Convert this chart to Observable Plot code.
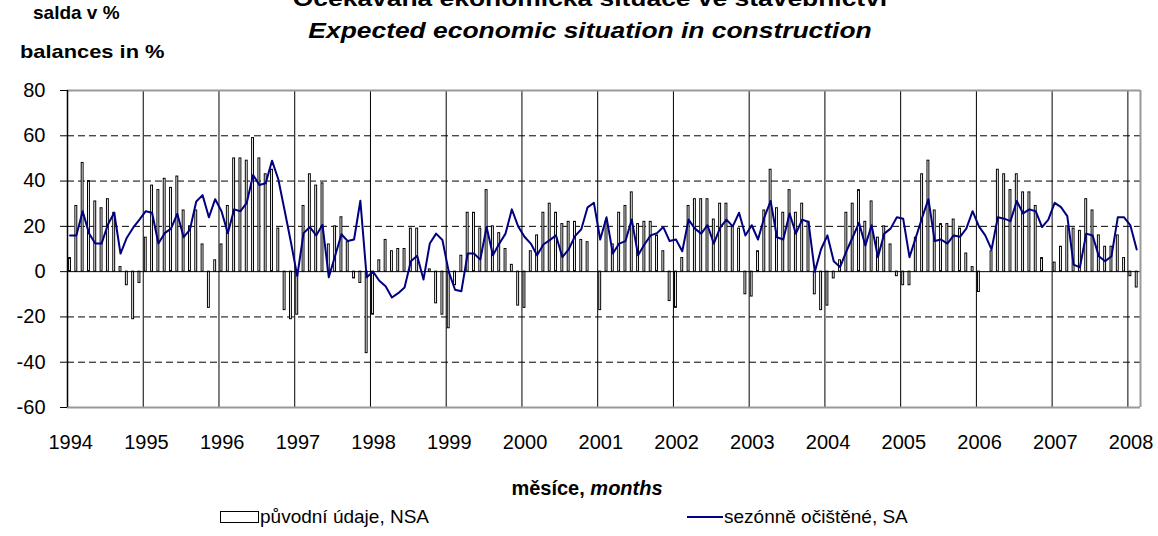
<!DOCTYPE html>
<html><head><meta charset="utf-8">
<script src="https://cdn.jsdelivr.net/npm/d3@7"></script>
<script src="https://cdn.jsdelivr.net/npm/@observablehq/plot@0.6"></script>
<style>
html,body{margin:0;padding:0;background:#fff;}
body{width:1158px;height:536px;overflow:hidden;font-family:"Liberation Sans",Arial,sans-serif;color:#000;}
#header{position:relative;height:66px;overflow:hidden;}
#footer{position:relative;height:76px;}
.t{position:absolute;white-space:nowrap;font-weight:bold;line-height:1.15;}
.n{position:absolute;white-space:nowrap;line-height:1.15;}
.wide{transform:scaleX(1.2);transform-origin:50% 50%;}
</style></head>
<body>
<div id="header">
  <div class="t wide" style="left:0;width:1180px;text-align:center;font-size:22px;top:-14px;">Očekávaná ekonomická situace ve stavebnictví</div>
  <div class="t wide" style="left:0;width:1180px;text-align:center;font-size:22px;top:18px;font-style:italic;">Expected economic situation in construction</div>
  <div class="t" style="left:33px;top:2px;font-size:19px;">salda v %</div>
  <div class="t" style="left:20px;top:41px;font-size:19px;transform:scaleX(1.15);transform-origin:0 50%;">balances in %</div>
</div>
<div id="chart"></div>
<div id="footer">
  <div class="t" style="left:0;width:1174px;text-align:center;font-size:20px;top:17px;">měsíce, <i>months</i></div>
  <div style="position:absolute;left:220px;top:51px;width:37px;height:10px;border:1px solid #000;background:#fff;"></div>
  <div class="n" style="left:260px;top:46px;font-size:19px;">původní údaje, NSA</div>
  <div style="position:absolute;left:687px;top:56px;width:36px;height:2px;background:#000080;"></div>
  <div class="n" style="left:724px;top:46px;font-size:19px;">sezónně očištěné, SA</div>
</div>
<script>
const years = [1994,1995,1996,1997,1998,1999,2000,2001,2002,2003,2004,2005,2006,2007,2008];
const yTicks = [-60,-40,-20,0,20,40,60,80];
// původní údaje, NSA (monthly, Jan 1994 – Feb 2008)
const nsa = [
  6, 29, 48, 40, 31, 28, 32, 26, 2, -6, -21, -5,
  15, 38, 36, 41, 37, 42, 27, 20, 27, 12, -16, 5,
  12, 29, 50, 50, 49, 59, 50, 43, 45, 19, -17, -21,
  -19, 29, 43, 38, 39, 12, 20, 24, 13, -3, -5, -36,
  -19, 5, 14, 9, 10, 10, 19, 19, 0, 1, -14, -19,
  -25, -6, 7, 26, 26, 19, 36, 20, 17, 10, 3, -15,
  -16, 9, 16, 26, 30, 26, 21, 22, 22, 14, 13, 0,
  -17, 22, 12, 26, 29, 35, 21, 22, 22, 16, 9, -13,
  -16, 6, 29, 32, 32, 32, 23, 30, 30, 20, 19, -10,
  -11, 9, 27, 45, 28, 26, 36, 26, 30, 22, -10, -17,
  -15, -3, 5, 26, 30, 36, 22, 31, 15, 20, 12, -2,
  -6, -6, 15, 43, 49, 27, 21, 21, 23, 19, 8, 2,
  -9, 0, 9, 45, 43, 36, 43, 35, 35, 29, 6, 0,
  4, 11, 20, 19, 18, 32, 27, 16, 11, 11, 16, 6,
  -2, -7
];
// sezónně očištěné, SA
const sa = [
  16, 16, 26.7, 17, 12.4, 12.4, 20.8, 26, 8, 15, 19.4, 23,
  26.7, 26, 12.4, 17, 19, 25.6, 15.2, 18.6, 31, 33.8, 24, 32,
  26.7, 17, 27.5, 26.7, 30.4, 42.7, 38.3, 39, 49, 40.8, 27, 13,
  -2, 17, 19.7, 16, 20.7, -2.5, 7, 16.5, 13.5, 14.2, 31.3, -2.5,
  0, -4, -6.5, -11.4, -9.5, -7, 4.6, 7, -3.5, 12.4, 16.8, 14,
  0, -8, -8.7, 8, 8, 5.3, 19.7, 7.2, 12.3, 16.8, 27.5, 20,
  15.4, 12.4, 7.2, 12, 13.9, 16, 6.4, 9.8, 15.7, 18.7, 28.4, 30.4,
  14.2, 24, 8, 12.4, 13.5, 23, 7.2, 12, 16, 17, 19.7, 13.5,
  14.2, 9, 23, 19, 16.8, 20.5, 12.4, 19.4, 23, 20, 26, 16,
  20.5, 14.2, 24, 31.2, 15.2, 14.2, 25.7, 16.8, 23, 21.9, 0, 10,
  16, 4.6, 2, 9, 15.2, 21.6, 11.5, 20.5, 6.4, 16.8, 19, 24,
  23.4, 6.4, 15, 23.8, 32, 13.5, 14.2, 12.4, 16, 15.4, 19, 26.7,
  20, 16, 9.8, 24, 23.4, 22.3, 31.2, 25.7, 27.5, 26.7, 19.7, 23,
  30.4, 28.5, 24.5, 3.1, 1.9, 16.8, 16, 6.8, 4.6, 6.8, 24, 24,
  20.4, 9.8
];

const months = nsa.map((v, i) => ({i, nsa: v, sa: sa[i]}));
const n = months.length;

const chart = Plot.plot({
  width: 1158,
  height: 394,
  marginTop: 24,
  marginBottom: 53,
  marginLeft: 67,
  marginRight: 18,
  style: {fontFamily: '"Liberation Sans", Arial, sans-serif', fontSize: "20px", color: "#000", background: "#fff", overflow: "visible"},
  x: {type: "linear", domain: [0, n]},
  y: {domain: [-60, 80]},
  marks: [
    Plot.ruleY([60, 40, 20, -20, -40], {stroke: "#000", strokeWidth: 1, strokeDasharray: "7,4"}),
    Plot.ruleX(years.slice(1), {x: d => (d - years[0]) * 12, stroke: "#000", strokeWidth: 1}),
    Plot.rect(months, {x1: d => d.i + 0.25, x2: d => d.i + 0.55, y1: 0, y2: "nsa", fill: "#fff", stroke: "#000", strokeWidth: 1}),
    Plot.ruleY([0], {stroke: "#000", strokeWidth: 1}),
    Plot.line(months, {x: d => d.i + 0.4, y: "sa", stroke: "#000080", strokeWidth: 2}),
    Plot.ruleY([80, -60], {stroke: "#999", strokeWidth: 2}),
    Plot.ruleX([n], {stroke: "#999", strokeWidth: 2}),
    Plot.ruleX([0], {stroke: "#000", strokeWidth: 1.5}),
    Plot.axisY({ticks: yTicks, tickSize: 7, tickPadding: 15, tickFormat: d => String(d), fontSize: 20, label: null}),
    Plot.axisX({ticks: years.map(y => (y - years[0]) * 12 + 0.5), tickSize: 0, tickPadding: 27,
      tickFormat: v => String(years[0] + Math.floor(v / 12)), fontSize: 20, label: null})
  ]
});
document.getElementById("chart").appendChild(chart);
</script>
</body></html>
